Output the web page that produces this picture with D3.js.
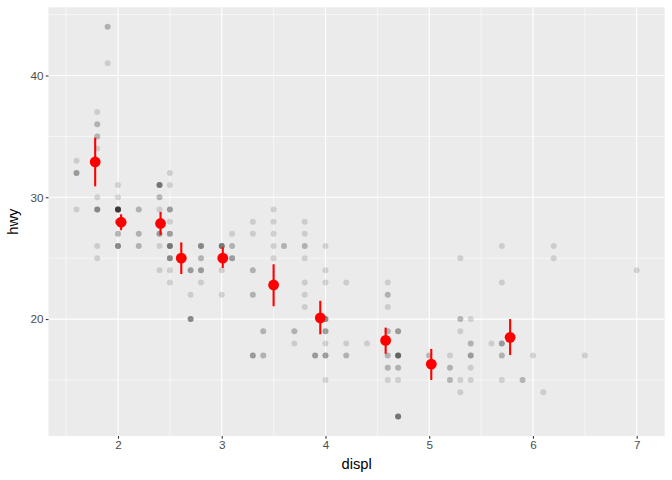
<!DOCTYPE html>
<html><head><meta charset="utf-8">
<script src="https://cdn.jsdelivr.net/npm/d3@7"></script>
<style>body{margin:0;background:#fff}svg{display:block}text{font-family:"Liberation Sans",Arial,sans-serif}</style>
</head><body><svg id="c" width="672" height="480"></svg>
<script>
const displ = [1.8,1.8,2.0,2.0,2.8,2.8,3.1,
1.8,1.8,2.0,2.0,2.8,2.8,3.1,3.1,
2.8,3.1,4.2,
5.3,5.3,5.3,5.7,6.0,
5.7,5.7,6.2,6.2,7.0,
5.3,5.3,5.7,6.5,
2.4,2.4,3.1,3.5,3.6,
2.4,3.0,3.3,3.3,3.3,3.3,3.3,3.8,3.8,3.8,4.0,
3.7,3.7,3.9,3.9,4.7,4.7,4.7,5.2,5.2,
3.9,4.7,4.7,4.7,5.2,5.7,5.9,
4.7,4.7,4.7,4.7,4.7,4.7,5.2,5.2,5.7,5.9,
4.6,5.4,5.4,
4.0,4.0,4.0,4.0,4.6,5.0,
4.2,4.2,4.6,4.6,4.6,5.4,5.4,
3.8,3.8,4.0,4.0,4.6,4.6,4.6,4.6,5.4,
1.6,1.6,1.6,1.6,1.6,1.8,1.8,1.8,2.0,
2.4,2.4,2.4,2.4,2.5,2.5,3.3,
2.0,2.0,2.0,2.0,2.7,2.7,2.7,
3.0,3.7,4.0,4.7,4.7,4.7,5.7,6.1,
4.0,4.2,4.4,4.6,
5.4,5.4,5.4,
4.0,4.0,4.6,5.0,
2.4,2.4,2.5,2.5,3.5,3.5,
3.0,3.0,3.5,
3.3,3.3,4.0,5.6,
3.1,3.8,3.8,3.8,5.3,
2.5,2.5,2.5,2.5,2.5,2.5,
2.2,2.2,2.5,2.5,2.5,2.5,2.5,2.5,
2.7,2.7,3.4,3.4,4.0,4.7,
2.2,2.2,2.4,2.4,3.0,3.0,3.5,
2.2,2.2,2.4,2.4,3.0,3.0,3.3,
1.8,1.8,1.8,1.8,1.8,
4.7,5.7,
2.7,2.7,2.7,3.4,3.4,4.0,4.0,
2.0,2.0,2.0,2.0,2.8,
1.9,2.0,2.0,2.0,2.0,2.5,2.5,2.8,2.8,
1.9,1.9,2.0,2.0,2.5,2.5,
1.8,1.8,2.0,2.0,2.8,2.8,3.6];
const hwy = [29,29,31,30,26,26,27,
26,25,28,27,25,25,25,25,
24,25,23,
20,15,20,17,17,
26,23,26,25,24,
19,14,15,17,
27,30,26,29,26,
24,24,22,22,24,24,17,22,21,23,23,
19,18,17,17,19,19,12,17,15,
17,17,12,17,16,18,15,
16,12,17,17,16,12,15,16,17,15,
17,17,18,
17,19,17,19,19,17,
17,17,16,16,17,15,17,
26,25,26,24,21,22,23,22,20,
33,32,32,29,32,34,36,36,29,
26,27,30,31,26,26,28,
26,29,28,27,24,24,24,
22,19,20,17,12,19,18,14,
15,18,18,15,
17,16,18,
17,19,19,17,
29,27,31,32,27,26,
26,25,25,
17,17,20,18,
26,26,27,28,25,
25,24,27,25,26,23,
26,26,26,26,25,27,25,27,
20,20,19,17,20,17,
29,27,31,31,26,26,28,
27,29,31,31,26,26,27,
30,33,35,37,35,
15,18,
20,20,22,17,19,18,20,
29,26,29,29,24,
44,29,26,29,29,29,29,23,24,
44,41,29,26,28,29,
29,29,28,29,26,26,26];

// binned summaries
const binX    = [1.78, 2.03, 2.41, 2.61, 3.01, 3.50, 3.95, 4.58, 5.02, 5.78];
const binMean = [32.9, 27.95, 27.85, 25.0, 25.0, 22.8, 20.1, 18.25, 16.3, 18.5];
const binLo   = [30.9, 27.3, 26.9, 23.7, 24.2, 21.05, 18.75, 17.15, 15.0, 17.05];
const binHi   = [34.9, 28.6, 28.8, 26.3, 25.9, 24.5, 21.5, 19.3, 17.55, 20.0];

const xTicks = [2,3,4,5,6,7];
const yTicks = [20,30,40];
const xMinor = [1.5,2.5,3.5,4.5,5.5,6.5];
const yMinor = [15,25,35,45];

const svg = d3.select("#c");
const L = 48.5, R = 664.7, T = 7.3, B = 436;
const x = d3.scaleLinear().domain([1.33, 7.27]).range([L, R]);
const y = d3.scaleLinear().domain([10.4, 45.6]).range([B, T]);

svg.append("rect").attr("x",L).attr("y",T).attr("width",R-L).attr("height",B-T).attr("fill","#EBEBEB");
const g = svg.append("g");
g.selectAll(".xm").data(xMinor).join("line").attr("x1",d=>x(d)).attr("x2",d=>x(d)).attr("y1",T).attr("y2",B).attr("stroke","#fff").attr("stroke-width",0.55);
g.selectAll(".ym").data(yMinor).join("line").attr("y1",d=>y(d)).attr("y2",d=>y(d)).attr("x1",L).attr("x2",R).attr("stroke","#fff").attr("stroke-width",0.55);
g.selectAll(".xM").data(xTicks).join("line").attr("x1",d=>x(d)).attr("x2",d=>x(d)).attr("y1",T).attr("y2",B).attr("stroke","#fff").attr("stroke-width",1.1);
g.selectAll(".yM").data(yTicks).join("line").attr("y1",d=>y(d)).attr("y2",d=>y(d)).attr("x1",L).attr("x2",R).attr("stroke","#fff").attr("stroke-width",1.1);

// points
const pts = displ.map((d,i)=>({x:d,y:hwy[i]}));
svg.append("g").selectAll("circle").data(pts).join("circle")
  .attr("cx",d=>x(d.x)).attr("cy",d=>y(d.y)).attr("r",3.0)
  .attr("fill","rgba(0,0,0,0.13)");

// summaries
const sg = svg.append("g");
sg.selectAll("line").data(binX).join("line")
  .attr("x1",d=>x(d)).attr("x2",d=>x(d))
  .attr("y1",(d,i)=>y(binLo[i])).attr("y2",(d,i)=>y(binHi[i]))
  .attr("stroke","red").attr("stroke-width",2.1);
sg.selectAll("circle").data(binX).join("circle")
  .attr("cx",d=>x(d)).attr("cy",(d,i)=>y(binMean[i])).attr("r",5.4).attr("fill","red");

// axes
const xa = svg.append("g").attr("transform",`translate(0,${B})`)
  .call(d3.axisBottom(x).tickValues(xTicks).tickSize(2.75).tickPadding(2.2).tickFormat(d3.format("d")));
const ya = svg.append("g").attr("transform",`translate(${L},0)`)
  .call(d3.axisLeft(y).tickValues(yTicks).tickSize(2.75).tickPadding(2.2).tickFormat(d3.format("d")));
[xa,ya].forEach(a=>{
  a.select(".domain").remove();
  a.selectAll(".tick line").attr("stroke","#333").attr("stroke-width",1.07);
  a.selectAll(".tick text").attr("fill","#4D4D4D").attr("font-size","11.7px").attr("font-family","'Liberation Sans',Arial,sans-serif");
});
svg.append("text").attr("x",(L+R)/2).attr("y",469).attr("text-anchor","middle").attr("font-size","14.7px").attr("fill","#000").text("displ");
svg.append("text").attr("transform",`translate(18,${(T+B)/2}) rotate(-90)`).attr("text-anchor","middle").attr("font-size","14.7px").attr("fill","#000").text("hwy");
</script></body></html>
